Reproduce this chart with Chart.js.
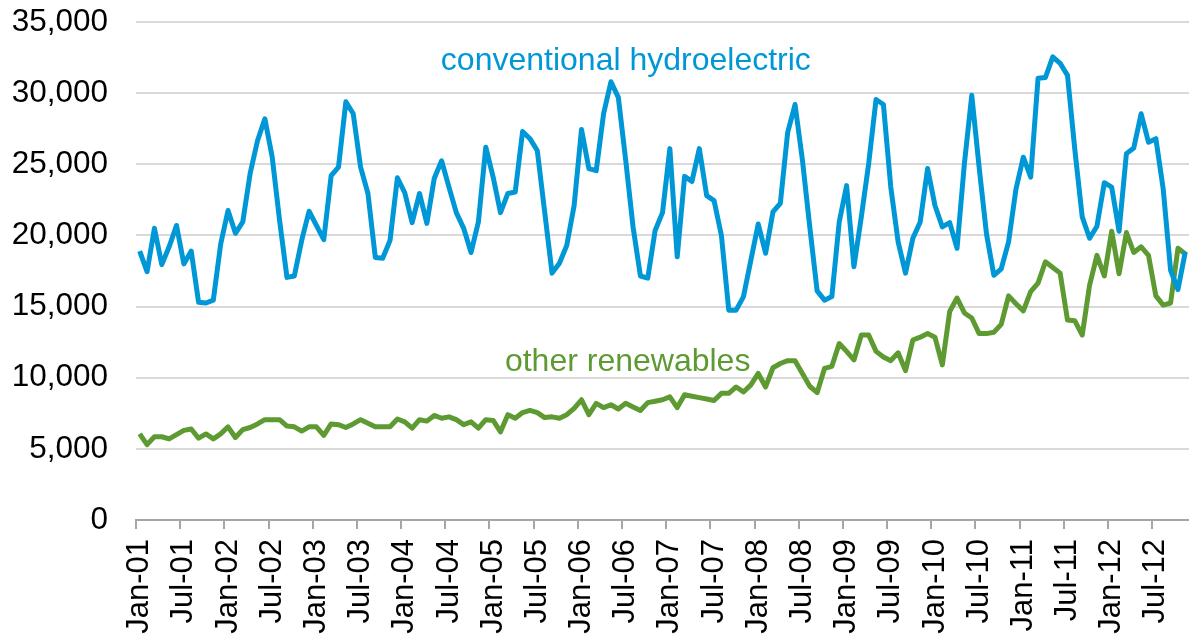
<!DOCTYPE html>
<html>
<head>
<meta charset="utf-8">
<script src="https://cdn.jsdelivr.net/npm/chart.js@4.4.1/dist/chart.umd.min.js"></script>
<style>
  html, body { margin: 0; padding: 0; background: #fff; overflow: hidden; }
  #caja { width: 1189px; height: 641px; position: relative; }
</style>
</head>
<body>
<div id="caja"><canvas id="grafico"></canvas></div>
<script>
// meses, desde Jan-01 hasta Nov-12
var nombres_meses = ['Jan','Feb','Mar','Apr','May','Jun','Jul','Aug','Sep','Oct','Nov','Dec'];
var anio_inicio = 2001;
var total_meses = 143;

var meses = [];
for (var i = 0; i < total_meses; i++) {
  var a = anio_inicio + Math.floor(i / 12);
  meses.push(nombres_meses[i % 12] + '-' + String(a % 100).padStart(2, '0'));
}

// valores mensuales
var hidro = [
  18900,17450,20500,17950,19200,20700,18000,18900,15300,15250,15450,19400,
  21750,20150,20950,24350,26650,28200,25500,21050,17050,17150,19650,21700,
  20700,19700,24200,24800,29400,28550,24800,22950,18450,18400,19650,24050,
  23000,20900,22950,20850,24000,25250,23400,21600,20500,18800,20950,26200,
  24100,21600,22950,23050,27300,26800,25950,21650,17350,18050,19300,22100,
  27450,24700,24550,28550,30800,29700,25300,20600,17150,17000,20350,21600,
  26100,18500,24150,23800,26100,22800,22450,20000,14750,14750,15700,18250,
  20800,18750,21650,22250,27250,29200,25300,20600,16100,15450,15700,20950,
  23500,17800,21300,25050,29550,29200,23400,19550,17350,19800,20950,24700,
  22100,20600,20900,19100,25050,29850,24800,20100,17200,17650,19550,23250,
  25500,24100,31050,31100,32550,32100,31250,26000,21300,19800,20650,23700,
  23400,20300,25750,26150,28550,26550,26800,23250,17550,16200,18850
];

var otras = [
  6050,5300,5850,5850,5700,6000,6300,6400,5750,6050,5700,6050,
  6550,5800,6350,6500,6750,7050,7050,7050,6600,6550,6250,6550,
  6550,5950,6750,6700,6500,6750,7050,6800,6550,6550,6550,7100,
  6900,6450,7050,6950,7350,7150,7250,7050,6700,6900,6450,7050,
  7000,6200,7400,7150,7550,7700,7550,7200,7250,7150,7400,7850,
  8450,7400,8200,7900,8100,7800,8200,7950,7700,8250,8350,8450,
  8650,7900,8800,8700,8600,8500,8400,8900,8900,9350,9000,9500,
  10300,9350,10700,11000,11200,11200,10300,9400,8950,10650,10800,12400,
  11850,11250,13000,13000,11850,11450,11200,11750,10500,12650,12850,13100,
  12850,10900,14650,15600,14550,14200,13100,13100,13200,13750,15750,15200,
  14700,16050,16650,18150,17750,17350,14050,14000,13000,16500,18600,17150,
  20300,17300,20200,18800,19200,18600,15750,15100,15250,19100,18700
];

var color_hidro = '#0097d7';
var color_otras = '#5e9a32';
var fuente = "'Liberation Sans', Arial, sans-serif";

// etiquetas de las series, ancladas en coordenadas de datos (indice de mes, valor)
var etiquetas_series = [
  { texto: 'conventional hydroelectric', mes: 40.9, valor: 31600, color: color_hidro },
  { texto: 'other renewables', mes: 49.6, valor: 10450, color: color_otras }
];

var plugin_etiquetas = {
  id: 'etiquetas_series',
  afterDatasetsDraw: function(chart) {
    var ctx = chart.ctx;
    var x = chart.scales.x, y = chart.scales.y;
    ctx.save();
    ctx.font = '32px ' + fuente;
    ctx.textAlign = 'left';
    ctx.textBaseline = 'alphabetic';
    etiquetas_series.forEach(function(e) {
      ctx.fillStyle = e.color;
      ctx.fillText(e.texto, x.getPixelForValue(e.mes), y.getPixelForValue(e.valor));
    });
    ctx.restore();
  }
};

var configuracion = {
  type: 'line',
  data: {
    labels: meses,
    datasets: [
      { label: 'conventional hydroelectric', data: hidro, borderColor: color_hidro, borderWidth: 5,
        pointRadius: 0, tension: 0, fill: false, borderJoinStyle: 'round' },
      { label: 'other renewables', data: otras, borderColor: color_otras, borderWidth: 5,
        pointRadius: 0, tension: 0, fill: false, borderJoinStyle: 'round' }
    ]
  },
  options: {
    responsive: true,
    maintainAspectRatio: false,
    animation: false,
    layout: { padding: { top: 22, right: 0, left: 0, bottom: 0 } },
    plugins: { legend: { display: false }, tooltip: { enabled: false } },
    scales: {
      x: {
        type: 'category',
        offset: true,
        afterFit: function(scale) {
          scale.height = 121;
          scale.paddingLeft = 0;
          scale.paddingRight = 0;
        },
        border: { display: true, color: '#a6a6a6', width: 2 },
        grid: {
          offset: true,
          drawOnChartArea: false,
          drawTicks: true,
          tickLength: 9,
          lineWidth: 2,
          tickColor: function(c) { return (c.index % 6 === 0) ? '#a6a6a6' : 'rgba(0,0,0,0)'; }
        },
        ticks: {
          autoSkip: false,
          maxRotation: 90,
          minRotation: 90,
          padding: 10,
          color: '#000',
          font: { family: fuente, size: 31 },
          callback: function(val, i) { return (i % 6 === 0) ? this.getLabelForValue(val) : ''; }
        }
      },
      y: {
        min: 0,
        max: 35000,
        afterFit: function(scale) {
          scale.width = 136;
          scale.paddingTop = 0;
          scale.paddingBottom = 0;
        },
        border: { display: false },
        grid: { color: '#d9d9d9', lineWidth: 2, drawTicks: false },
        ticks: {
          stepSize: 5000,
          padding: 28,
          color: '#000',
          font: { family: fuente, size: 31.5 },
          callback: function(v) { return v.toLocaleString('en-US'); }
        }
      }
    }
  },
  plugins: [plugin_etiquetas]
};

var mi_grafico = new Chart(document.getElementById('grafico').getContext('2d'), configuracion);
</script>
</body>
</html>
